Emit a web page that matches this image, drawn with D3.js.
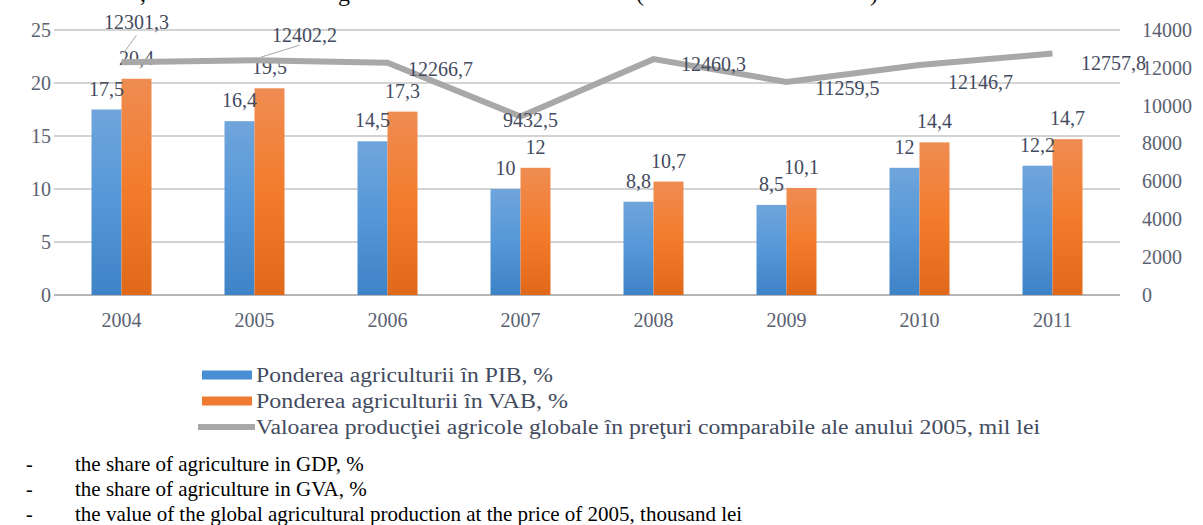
<!DOCTYPE html>
<html>
<head>
<meta charset="utf-8">
<script src="https://cdn.jsdelivr.net/npm/d3@7"></script>
<style>
  body { margin: 0; background: #fff; }
  svg { display: block; }
  text { font-family: "Liberation Serif", "Times New Roman", serif; }
</style>
</head>
<body>
<div id="vis"></div>
<script>
// data
const years = ['2004', '2005', '2006', '2007', '2008', '2009', '2010', '2011'];
const pibShare = [17.5, 16.4, 14.5, 10, 8.8, 8.5, 12, 12.2];
const vabShare = [20.4, 19.5, 17.3, 12, 10.7, 10.1, 14.4, 14.7];
const prodValue = [12301.3, 12402.2, 12266.7, 9432.5, 12460.3, 11259.5, 12146.7, 12757.8];
const leftTicks = [0, 5, 10, 15, 20, 25];
const rightTicks = [0, 2000, 4000, 6000, 8000, 10000, 12000, 14000];
const legendLabels = [
  'Ponderea agriculturii în PIB, %',
  'Ponderea agriculturii în VAB, %',
  'Valoarea producţiei agricole globale în preţuri comparabile ale anului 2005, mil lei'
];
const notes = [
  'the share of agriculture in GDP, %',
  'the share of agriculture in GVA, %',
  'the value of the global agricultural production at the price of 2005, thousand lei'
];

let width = 1203, height = 525;
const serif = '"Liberation Serif", "Times New Roman", serif';
const labelColor = '#434b5e';
const tickColor = '#5a6170';

let svg = d3.select('#vis')
  .append('svg')
    .attr('width', width)
    .attr('height', height);

// gradients for bars
let defs = svg.append('defs');
function grad(id, top, mid, bottom) {
  let g = defs.append('linearGradient').attr('id', id)
    .attr('x1', 0).attr('y1', 0).attr('x2', 0).attr('y2', 1);
  g.append('stop').attr('offset', '0%').attr('stop-color', top);
  g.append('stop').attr('offset', '50%').attr('stop-color', mid);
  g.append('stop').attr('offset', '100%').attr('stop-color', bottom);
}
grad('gBlue', '#6fa5db', '#5597d8', '#3e83c6');
grad('gOrange', '#ef8c52', '#f37c2c', '#e0681a');
defs.append('filter').attr('id', 'soft')
  .append('feGaussianBlur').attr('stdDeviation', 0.7);

// cut-off title fragments at the very top (the source crop cuts the title)
svg.append('g').selectAll('text')
  .data([[140, ','], [338, 'g'], [636, '('], [870, ')']])
  .enter().append('text')
    .attr('x', d => d[0]).attr('y', 1)
    .style('font-family', serif)
    .style('font-size', '24px').style('fill', '#111')
    .text(d => d[1]);

// scales
let xScale = d3.scaleBand()
  .domain(years)
  .range([55, 1119]);

let xSub = d3.scaleBand()
  .domain(['pib', 'vab'])
  .range([xScale.bandwidth() / 2 - 30, xScale.bandwidth() / 2 + 30]);

let yLeft = d3.scaleLinear().domain([0, 25]).range([295, 30]);
let yRight = d3.scaleLinear().domain([0, 14000]).range([295, 30]);

// gridlines
svg.append('g')
  .selectAll('line')
  .data(leftTicks)
  .enter().append('line')
    .attr('x1', 54).attr('x2', 1120)
    .attr('y1', d => yLeft(d)).attr('y2', d => yLeft(d))
    .attr('stroke', d => d === 0 ? '#b5b5b5' : '#c4c4c4')
    .attr('stroke-width', d => d === 0 ? 2 : 1.5);

function styleTicks(sel) {
  sel.select('.domain').remove();
  sel.attr('font-family', serif).attr('font-size', 20);
  sel.selectAll('text')
    .style('font-family', serif)
    .style('font-size', '20px')
    .style('fill', tickColor);
}

// left axis
svg.append('g')
  .attr('transform', 'translate(51,0)')
  .call(d3.axisLeft(yLeft).tickValues(leftTicks).tickSize(0).tickPadding(0))
  .call(styleTicks);

// right axis
svg.append('g')
  .attr('transform', 'translate(1142,0)')
  .call(d3.axisRight(yRight).tickValues(rightTicks).tickSize(0).tickPadding(0).tickFormat(d3.format('d')))
  .call(styleTicks);

// x axis labels
svg.append('g')
  .attr('transform', 'translate(0,313)')
  .call(d3.axisBottom(xScale).tickSize(0).tickPadding(0))
  .call(styleTicks);

// bars
let rows = years.map((y, i) => ({ year: y, pib: pibShare[i], vab: vabShare[i] }));
let groups = svg.append('g').selectAll('g')
  .data(rows)
  .enter().append('g')
    .attr('transform', d => 'translate(' + xScale(d.year) + ',0)');

groups.selectAll('rect')
  .data(d => [{ key: 'pib', value: d.pib }, { key: 'vab', value: d.vab }])
  .enter().append('rect')
    .attr('x', d => xSub(d.key))
    .attr('y', d => yLeft(d.value))
    .attr('width', xSub.bandwidth())
    .attr('height', d => yLeft(0) - yLeft(d.value))
    .attr('fill', d => d.key === 'pib' ? 'url(#gBlue)' : 'url(#gOrange)');

// bar labels
groups.selectAll('text')
  .data(d => [{ key: 'pib', value: d.pib }, { key: 'vab', value: d.vab }])
  .enter().append('text')
    .attr('x', d => xSub(d.key) + xSub.bandwidth() / 2)
    .attr('y', d => yLeft(d.value) - 21)
    .attr('dy', '0.35em')
    .attr('text-anchor', 'middle')
    .style('font-family', serif)
    .style('font-size', '20px')
    .style('fill', labelColor)
    .text(d => String(d.value).replace('.', ','));

// production line
let line = d3.line()
  .x((d, i) => xScale(years[i]) + xScale.bandwidth() / 2)
  .y(d => yRight(d));

svg.append('path')
  .attr('d', line(prodValue))
  .attr('fill', 'none')
  .attr('stroke', '#a8a8a8')
  .attr('stroke-width', 6)
  .attr('stroke-linejoin', 'miter')
  .attr('filter', 'url(#soft)');

// line labels, offsets from each point
const labelOffsets = [[15, -40], [50, -25], [53, 6], [10, 4], [60, 5], [61, 6], [61, 17], [61, 9]];
const leaders = [[[15, -27], [2, -9]], [[45, -15], [6, -3]]];

svg.append('g').selectAll('line')
  .data(leaders)
  .enter().append('line')
    .attr('x1', (d, i) => xScale(years[i]) + xScale.bandwidth() / 2 + d[0][0])
    .attr('y1', (d, i) => yRight(prodValue[i]) + d[0][1])
    .attr('x2', (d, i) => xScale(years[i]) + xScale.bandwidth() / 2 + d[1][0])
    .attr('y2', (d, i) => yRight(prodValue[i]) + d[1][1])
    .attr('stroke', '#a8a8a8')
    .attr('stroke-width', 1);

svg.append('g').selectAll('text')
  .data(prodValue)
  .enter().append('text')
    .attr('x', (d, i) => xScale(years[i]) + xScale.bandwidth() / 2 + labelOffsets[i][0])
    .attr('y', (d, i) => yRight(d) + labelOffsets[i][1])
    .attr('text-anchor', 'middle')
    .attr('dy', '0.35em')
    .style('font-family', serif)
    .style('font-size', '20px')
    .style('fill', labelColor)
    .text(d => d3.format('.1f')(d).replace('.', ','));

// legend
let legend = svg.append('g');
const legendY = [375, 401, 427];
legend.append('rect').attr('x', 202).attr('y', legendY[0] - 4.5).attr('width', 50).attr('height', 9).attr('fill', '#4a8fd3');
legend.append('rect').attr('x', 202).attr('y', legendY[1] - 4.5).attr('width', 50).attr('height', 9).attr('fill', '#ee7b31');
legend.append('line').attr('x1', 198).attr('x2', 255).attr('y1', legendY[2]).attr('y2', legendY[2])
  .attr('stroke', '#a8a8a8').attr('stroke-width', 6);
legend.selectAll('text')
  .data(legendLabels)
  .enter().append('text')
    .attr('x', 256)
    .attr('y', (d, i) => legendY[i])
    .attr('dy', '0.35em')
    .attr('textLength', (d, i) => [297, 312, 784][i])
    .attr('lengthAdjust', 'spacingAndGlyphs')
    .style('font-family', serif)
    .style('font-size', '20px')
    .style('fill', labelColor)
    .text(d => d);

// footnotes under the chart
let foot = svg.append('g');
foot.selectAll('text.dash')
  .data(notes)
  .enter().append('text')
    .attr('class', 'dash')
    .attr('x', 26)
    .attr('y', (d, i) => 464 + i * 25)
    .attr('dy', '0.35em')
    .style('font-family', serif)
    .style('font-size', '20px')
    .style('fill', '#000')
    .text('-');
foot.selectAll('text.note')
  .data(notes)
  .enter().append('text')
    .attr('class', 'note')
    .attr('x', 75)
    .attr('y', (d, i) => 464 + i * 25)
    .attr('dy', '0.35em')
    .style('font-family', serif)
    .style('font-size', '21px')
    .style('fill', '#000')
    .text(d => d);
</script>
</body>
</html>
